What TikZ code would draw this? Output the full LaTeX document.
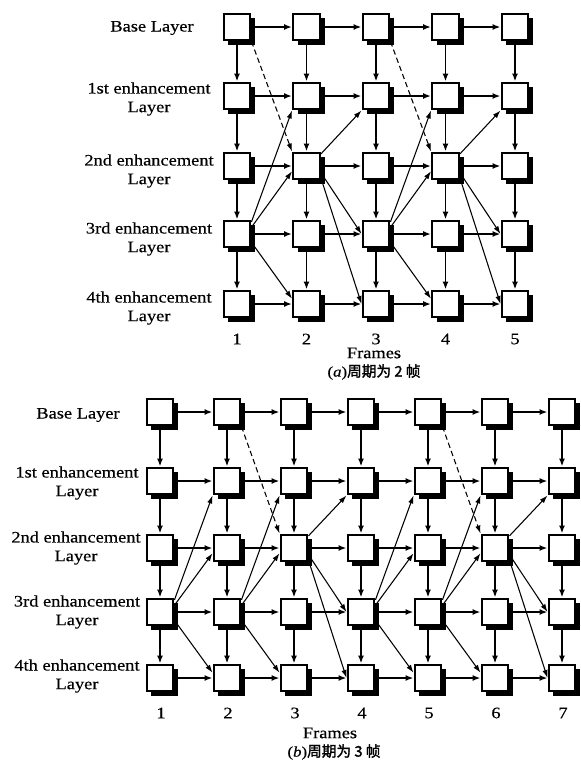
\documentclass[tikz,border=0pt]{standalone}
\usepackage{fontspec}
\setmainfont[FakeStretch=1.15,FakeBold=0.4]{Liberation Serif}
\newfontfamily\cjk[FakeBold=1.8]{Noto Sans CJK SC}
\usetikzlibrary{arrows.meta,shadows}
\begin{document}
\begin{tikzpicture}[x=0.75pt,y=-0.75pt,
 fbox/.style={draw, fill=white, line width=1.7pt, minimum size=20pt, inner sep=0pt,
   drop shadow={shadow xshift=3.5pt, shadow yshift=-3.5pt, fill=black, opacity=1}},
 arr/.style={-{Latex[length=6pt,width=4.5pt]}, line width=1.3pt},
 diag/.style={-{Latex[length=6pt,width=4pt]}, line width=0.8pt},
 dsh/.style={diag, dash pattern=on 4pt off 2.5pt},
 lbl/.style={align=center, font=\fontsize{12pt}{14pt}\selectfont, inner sep=0pt},
 num/.style={font=\fontsize{12pt}{14pt}\selectfont, inner sep=0pt},
 captext/.style={font=\fontsize{11pt}{13pt}\selectfont, inner sep=0pt}]

\fill[white] (0,0) rectangle (581,765);
\useasboundingbox (0,0) rectangle (581,765);

% ================= (a) =================
\foreach \c in {1,...,5}{
  \foreach \r/\y in {0/27,1/96,2/166,3/234,4/304}{
    \node[fbox] (a\c\r) at ({237+69.5*(\c-1)},\y) {};
  }
}
\foreach \c [evaluate=\c as \n using {int(\c+1)}] in {1,...,4}{
  \foreach \r in {0,...,4}{ \draw[arr] (a\c\r) -- (a\n\r); }
}
\foreach \c in {1,...,5}{
  \foreach \r [evaluate=\r as \s using {int(\r+1)}] in {0,...,3}{ \draw[arr] (a\c\r) -- (a\c\s); }
}
\foreach \c/\n in {1/2,3/4}{
  \draw[diag] (a\c3.40) -- (a\n1.south west);
  \draw[diag] (a\c3.25) -- (a\n2.200);
  \draw[diag] (a\c3.-30) -- (a\n4.160);
}
\foreach \c/\n in {2/3,4/5}{
  \draw[diag] (a\c2.40) -- (a\n1.south west);
  \draw[diag] (a\c2.-25) -- (a\n3.west);
  \draw[diag] (a\c2.-40) -- (a\n4.west);
}
\draw[dsh] (a10.south east) -- (a22.north west);
\draw[dsh] (a30.south east) -- (a42.north west);

\node[lbl] (la0) at (152,28) {Base Layer};
\node[lbl] (la1) at (149,99) {1st enhancement\\Layer};
\node[lbl] (la2) at (149,171) {2nd enhancement\\Layer};
\node[lbl] (la3) at (149,239) {3rd enhancement\\Layer};
\node[lbl] (la4) at (149,308) {4th enhancement\\Layer};
\foreach \c in {1,...,5}{ \node[num] (na\c) at ({237+69.5*(\c-1)},339) {\c}; }
\node[lbl] (fa) at (374,353) {Frames};
\node[captext] (ca) at (374,372) {(\textit{a})\cjk 周期为 2 帧};

% ================= (b) =================
\foreach \c in {1,...,7}{
  \foreach \r/\y in {0/412,1/481,2/548,3/612,4/678}{
    \node[fbox] (b\c\r) at ({160+67*(\c-1)},\y) {};
  }
}
\foreach \c [evaluate=\c as \n using {int(\c+1)}] in {1,...,6}{
  \foreach \r in {0,...,4}{ \draw[arr] (b\c\r) -- (b\n\r); }
}
\foreach \c in {1,...,7}{
  \foreach \r [evaluate=\r as \s using {int(\r+1)}] in {0,...,3}{ \draw[arr] (b\c\r) -- (b\c\s); }
}
\foreach \c/\n in {1/2,2/3,4/5,5/6}{
  \draw[diag] (b\c3.40) -- (b\n1.south west);
  \draw[diag] (b\c3.25) -- (b\n2.200);
  \draw[diag] (b\c3.-30) -- (b\n4.160);
}
\foreach \c/\n in {3/4,6/7}{
  \draw[diag] (b\c2.40) -- (b\n1.south west);
  \draw[diag] (b\c2.-25) -- (b\n3.west);
  \draw[diag] (b\c2.-40) -- (b\n4.west);
}
\draw[dsh] (b20.south east) -- (b32.north west);
\draw[dsh] (b50.south east) -- (b62.north west);

\node[lbl] (lb0) at (78,415) {Base Layer};
\node[lbl] (lb1) at (77,483) {1st enhancement\\Layer};
\node[lbl] (lb2) at (76,548) {2nd enhancement\\Layer};
\node[lbl] (lb3) at (77,612) {3rd enhancement\\Layer};
\node[lbl] (lb4) at (77,676) {4th enhancement\\Layer};
\foreach \c in {1,...,7}{ \node[num] (nb\c) at ({161+67*(\c-1)},713) {\c}; }
\node[lbl] (fb) at (330,733) {Frames};
\node[captext] (cb) at (334,752) {(\textit{b})\cjk 周期为 3 帧};
\end{tikzpicture}
\end{document}
